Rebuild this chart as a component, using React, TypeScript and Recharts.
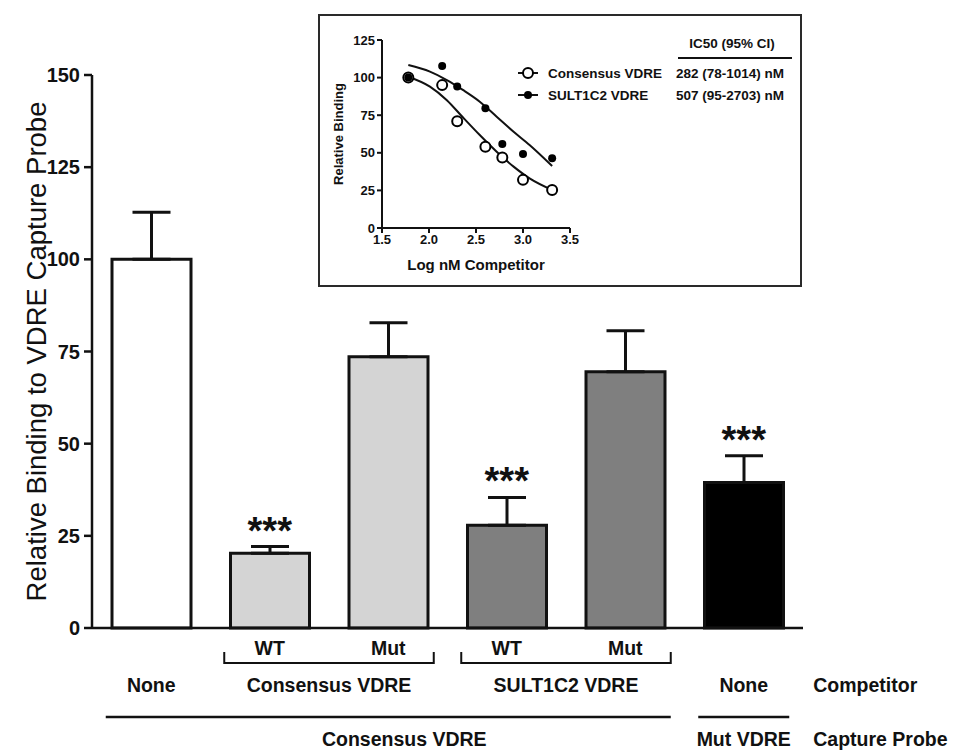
import { ComposedChart, Bar, Cell, ErrorBar, Line, LabelList, XAxis, YAxis, Scatter } from 'recharts'

// main panel: relative binding to the capture probe (mean, upper SEM)
const IDS = ['none', 'cons-wt', 'cons-mut', 'sult-wt', 'sult-mut', 'mutprobe-none']
const SUB = ['', 'WT', 'Mut', 'WT', 'Mut', '']
const COMPETITOR = ['None', 'Consensus VDRE', 'Consensus VDRE', 'SULT1C2 VDRE', 'SULT1C2 VDRE', 'None']
const PROBE = ['Consensus VDRE', 'Consensus VDRE', 'Consensus VDRE', 'Consensus VDRE', 'Consensus VDRE', 'Mut VDRE']
const MEAN = [100, 20.3, 73.6, 27.9, 69.5, 39.5]
const SEM = [12.8, 1.8, 9.2, 7.5, 11.1, 7.2]
const SIG = ['', '***', '', '***', '', '***']
const Y_TICKS = [0, 25, 50, 75, 100, 125, 150]

// inset: competition curves
const CONS_X = [1.78, 2.14, 2.3, 2.6, 2.78, 3.0, 3.31]
const CONS_Y = [100, 95, 71, 54, 46.8, 32, 25.3]
const SULT_X = [1.78, 2.14, 2.3, 2.6, 2.78, 3.0, 3.31]
const SULT_Y = [100, 107.7, 94, 79.6, 55.8, 49.2, 46.3]
const FIT_X = [1.78, 2.01, 2.19, 2.36, 2.54, 2.72, 2.9, 3.07, 3.31]
const CONS_FIT = [100.6, 94, 85, 73.6, 61.8, 50.7, 40.8, 33, 25.3]
const SULT_FIT = [108.4, 104, 98.4, 91.8, 84, 74, 64, 55.2, 41.2]
const INSET_X_TICKS = [1.5, 2.0, 2.5, 3.0, 3.5]
const INSET_Y_TICKS = [0, 25, 50, 75, 100, 125]
const SERIES_NAMES = ['Consensus VDRE', 'SULT1C2 VDRE']
const IC50 = ['282 (78-1014) nM', '507 (95-2703) nM']

const FILLS = ['#ffffff', '#d4d4d4', '#d4d4d4', '#7f7f7f', '#7f7f7f', '#000000']
const FONT = '"Liberation Sans", Arial, Helvetica, sans-serif'
const PLOT_LEFT = 92
const PLOT_RIGHT = 803
const BAR_SIZE = 79

const data = IDS.map((id, i) => ({
  id,
  mean: MEAN[i],
  err: [0, SEM[i]],
  top: MEAN[i] + SEM[i],
  sig: SIG[i],
}))
const consPts = CONS_X.map((x, i) => ({ x, y: CONS_Y[i] }))
const sultPts = SULT_X.map((x, i) => ({ x, y: SULT_Y[i] }))
const consFit = FIT_X.map((x, i) => ({ x, y: CONS_FIT[i] }))
const sultFit = FIT_X.map((x, i) => ({ x, y: SULT_FIT[i] }))

const LBL = { fontFamily: FONT, fontSize: 19.5, fontWeight: 700, fill: '#111' }

function runEnd(arr: string[], i: number) {
  let j = i
  while (j + 1 < arr.length && arr[j + 1] === arr[i]) j++
  return j
}

function BottomTick({ x, y, index }: any) {
  const band = (PLOT_RIGHT - PLOT_LEFT) / IDS.length
  const half = BAR_SIZE / 2 + 6
  const out: any[] = []
  if (SUB[index]) {
    out.push(<text key="s" x={x} y={y + 27} textAnchor="middle" {...LBL}>{SUB[index]}</text>)
  }
  if (index === 0 || COMPETITOR[index - 1] !== COMPETITOR[index]) {
    const j = runEnd(COMPETITOR, index)
    const x2 = x + (j - index) * band
    if (j > index) {
      out.push(<path key="b" d={`M${x - half},${y + 24}V${y + 35}H${x2 + half}V${y + 24}`}
        fill="none" stroke="#111" strokeWidth={2} />)
    }
    out.push(<text key="c" x={(x + x2) / 2} y={y + 64} textAnchor="middle" {...LBL}>{COMPETITOR[index]}</text>)
  }
  if (index === 0 || PROBE[index - 1] !== PROBE[index]) {
    const j = runEnd(PROBE, index)
    const x2 = x + (j - index) * band
    out.push(<line key="l" x1={x - half} x2={x2 + half} y1={y + 89} y2={y + 89} stroke="#111" strokeWidth={2.5} />)
    out.push(<text key="p" x={(x + x2) / 2 + (j > index ? 16 : 0)} y={y + 118} textAnchor="middle" {...LBL}>{PROBE[index]}</text>)
  }
  if (index === IDS.length - 1) {
    const tx = x + BAR_SIZE / 2 + 30
    out.push(<text key="t1" x={tx} y={y + 64} {...LBL}>Competitor</text>)
    out.push(<text key="t2" x={tx} y={y + 118} {...LBL}>Capture Probe</text>)
  }
  return <g>{out}</g>
}

function MainYTitle({ viewBox }: any) {
  const cx = viewBox.x + 36
  const cy = viewBox.y + viewBox.height / 2
  return (
    <text x={cx} y={cy} transform={`rotate(-90 ${cx} ${cy})`} textAnchor="middle" dominantBaseline="central"
      style={{ fontFamily: FONT, fontSize: 27.5, fill: '#111' }}>
      Relative Binding to VDRE Capture Probe
    </text>
  )
}

function InsetYTitle({ viewBox }: any) {
  const cx = viewBox.x - 4
  const cy = viewBox.y + viewBox.height / 2
  return (
    <text x={cx} y={cy} transform={`rotate(-90 ${cx} ${cy})`} textAnchor="middle" dominantBaseline="central"
      style={{ fontFamily: FONT, fontSize: 13, fontWeight: 700, fill: '#111' }}>
      Relative Binding
    </text>
  )
}

function OpenDot({ cx, cy }: any) {
  return <circle cx={cx} cy={cy} r={5} fill="#fff" stroke="#000" strokeWidth={2} />
}
function FilledDot({ cx, cy }: any) {
  return <circle cx={cx} cy={cy} r={4} fill="#000" />
}

function Inset() {
  const t = { fontFamily: FONT, fontSize: 13, fontWeight: 700, fill: '#111' }
  return (
    <div style={{ position: 'absolute', left: 318, top: 14, width: 484, height: 273, border: '2px solid #2a2a2a',
      boxSizing: 'border-box', background: '#fff' }}>
      <ComposedChart width={480} height={269} margin={{ top: 24, right: 230, bottom: 0, left: 22 }}>
        <XAxis type="number" dataKey="x" domain={[1.5, 3.5]} ticks={INSET_X_TICKS} tickFormatter={(v: number) => v.toFixed(1)}
          height={57} tickSize={5} axisLine={{ stroke: '#111', strokeWidth: 2 }} tickLine={{ stroke: '#111', strokeWidth: 2 }}
          tick={t} label={{ value: 'Log nM Competitor', position: 'insideBottom', offset: 15, style: { ...t, fontSize: 15 } }} />
        <YAxis type="number" dataKey="y" domain={[0, 125]} ticks={INSET_Y_TICKS} width={40} tickSize={5}
          axisLine={{ stroke: '#111', strokeWidth: 2 }} tickLine={{ stroke: '#111', strokeWidth: 2 }} tick={t}
          label={<InsetYTitle />} />
        <Line data={consFit} dataKey="y" type="monotone" stroke="#111" strokeWidth={2} dot={false} activeDot={false} isAnimationActive={false} />
        <Line data={sultFit} dataKey="y" type="monotone" stroke="#111" strokeWidth={2} dot={false} activeDot={false} isAnimationActive={false} />
        <Scatter name={SERIES_NAMES[0]} data={consPts} shape={<OpenDot />} isAnimationActive={false} />
        <Scatter name={SERIES_NAMES[1]} data={sultPts} shape={<FilledDot />} isAnimationActive={false} />
      </ComposedChart>
      <svg width={480} height={120} style={{ position: 'absolute', left: 0, top: 0 }}>
        <text x={412} y={32} textAnchor="middle" style={{ ...t, fontSize: 13.5 }}>IC50 (95% CI)</text>
        <line x1={358} x2={472} y1={42} y2={42} stroke="#111" strokeWidth={2} />
        {SERIES_NAMES.map((name, i) => (
          <g key={name}>
            <line x1={198} x2={218} y1={57 + i * 22} y2={57 + i * 22} stroke="#111" strokeWidth={2} />
            {i === 0 ? <OpenDot cx={208} cy={57} /> : <FilledDot cx={208} cy={79} />}
            <text x={228} y={62 + i * 22} style={{ ...t, fontSize: 13.5 }}>{name}</text>
            <text x={356} y={62 + i * 22} style={{ ...t, fontSize: 13.5 }}>{IC50[i]}</text>
          </g>
        ))}
      </svg>
    </div>
  )
}

export default function App() {
  return (
    <div style={{ position: 'absolute', left: 0, top: 0, width: 968, height: 750, background: '#fff', fontFamily: FONT }}>
      <ComposedChart width={968} height={750} data={data} margin={{ top: 75, right: 165, bottom: 0, left: 0 }}>
        <XAxis dataKey="id" interval={0} height={122} tickSize={0} tickMargin={0} tickLine={false}
          axisLine={{ stroke: '#111', strokeWidth: 2.5 }} tick={<BottomTick />} />
        <YAxis domain={[0, 150]} ticks={Y_TICKS} width={92} tickSize={8} tickMargin={4}
          axisLine={{ stroke: '#111', strokeWidth: 2.5 }} tickLine={{ stroke: '#111', strokeWidth: 2.5 }}
          tick={{ fontFamily: FONT, fontSize: 20, fontWeight: 700, fill: '#111' }} label={<MainYTitle />} />
        <Bar dataKey="mean" barSize={BAR_SIZE} stroke="#111" strokeWidth={3} isAnimationActive={false}>
          {data.map((d, i) => <Cell key={d.id} fill={FILLS[i]} />)}
          <ErrorBar dataKey="err" direction="y" width={19} stroke="#111" strokeWidth={3} isAnimationActive={false} />
        </Bar>
        <Line dataKey="top" stroke="none" dot={false} activeDot={false} isAnimationActive={false}>
          <LabelList dataKey="sig" position="top" offset={3} fill="#111" fontSize={38} fontWeight={700} fontFamily={FONT} />
        </Line>
      </ComposedChart>
      <Inset />
    </div>
  )
}
